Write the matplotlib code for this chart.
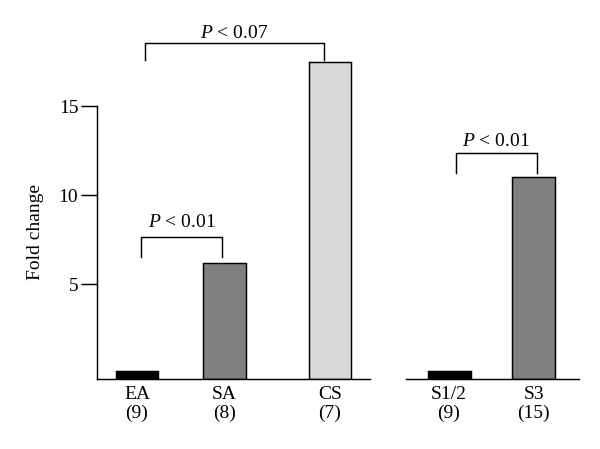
import matplotlib
matplotlib.use('Agg')
import matplotlib.pyplot as plt

plt.rcParams['font.family'] = ['Liberation Serif', 'DejaVu Serif']
plt.rcParams['mathtext.fontset'] = 'custom'
plt.rcParams['mathtext.rm'] = 'Liberation Serif'
plt.rcParams['mathtext.it'] = 'Liberation Serif:italic'

# left panel data
left_groups = ['EA\n(9)', 'SA\n(8)', 'CS\n(7)']
left_values = [0.15, 6.2, 17.5]
left_colors = ['#000000', '#808080', '#d9d9d9']

# right panel data
right_groups = ['S1/2\n(9)', 'S3\n(15)']
right_values = [0.15, 11.0]
right_colors = ['#000000', '#808080']

y_ticks = [5, 10, 15]

# brackets: x1, x2, y top, y of ends, text baseline, label
left_brackets = [
    (0.05, 0.97, 7.66, 6.54, 8.22, '$P$ < 0.01'),
    (0.09, 2.14, 18.54, 17.59, 18.82, '$P$ < 0.07'),
]
right_brackets = [
    (0.08, 1.02, 12.38, 11.25, 12.77, '$P$ < 0.01'),
]

# layout
left_x = [0, 1, 2.206]
right_x = [0, 0.983]
y_bottom = -0.3
y_top = 19.83
fs = 14
lw = 1.05

fig = plt.figure(figsize=(6, 4.49), dpi=100)
ax1 = fig.add_axes([97/600, 70/449, 273/600, 359/449])
ax2 = fig.add_axes([406/600, 70/449, 173/600, 359/449])


def draw_panel(ax, xs, vals, cols, labels, brackets, width, xlim):
    ax.bar(xs, [v - y_bottom for v in vals], bottom=y_bottom, width=width,
           color=cols, edgecolor='black', linewidth=lw)
    ax.set_xlim(*xlim)
    ax.set_ylim(y_bottom, y_top)
    ax.set_xticks(xs)
    ax.set_xticklabels(labels, fontsize=fs, linespacing=1.15)
    ax.tick_params(axis='x', length=0, pad=5)
    for s in ['top', 'right']:
        ax.spines[s].set_visible(False)
    ax.spines['bottom'].set_linewidth(lw)
    for x1, x2, yt, ye, ytxt, lab in brackets:
        ax.plot([x1, x1, x2, x2], [ye, yt, yt, ye], color='black', lw=lw,
                clip_on=False)
        ax.text((x1 + x2) / 2, ytxt, lab, ha='center', va='baseline',
                fontsize=fs)


draw_panel(ax1, left_x, left_values, left_colors, left_groups, left_brackets,
           0.49, (-0.457, 2.663))
ax1.set_yticks(y_ticks)
ax1.set_yticklabels([str(t) for t in y_ticks], fontsize=fs)
ax1.tick_params(axis='y', length=11.5, width=lw, pad=2)
ax1.spines['left'].set_bounds(y_bottom, 15)
ax1.spines['left'].set_linewidth(lw)
ax1.set_ylabel('Fold change', fontsize=fs)
ax1.yaxis.set_label_coords(-0.194, 0.41)

draw_panel(ax2, right_x, right_values, right_colors, right_groups,
           right_brackets, 0.5, (-0.5, 1.51))
ax2.spines['left'].set_visible(False)
ax2.set_yticks([])

fig.savefig('out.png', dpi=100)
